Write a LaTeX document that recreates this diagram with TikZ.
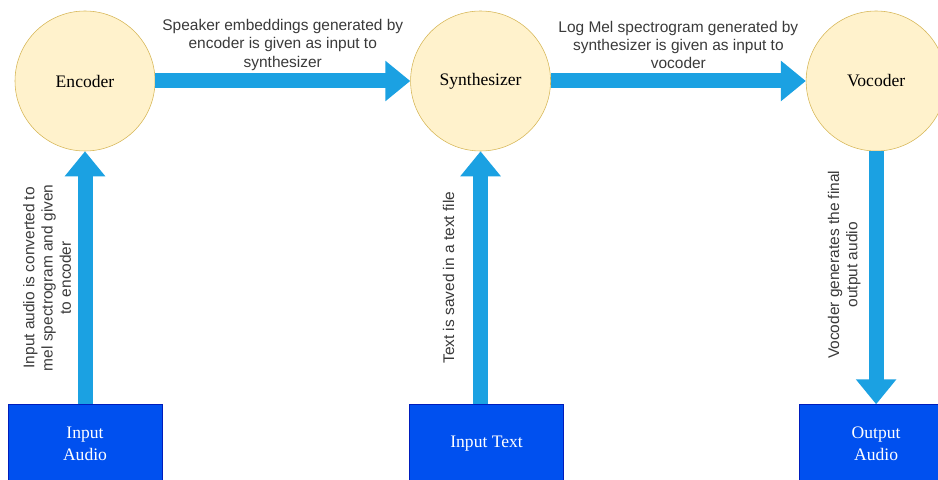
\documentclass[tikz,border=0pt]{standalone}
\usepackage{fontspec}
\setmainfont{Liberation Serif}
\newfontfamily\notefont{Liberation Sans}
\usepackage{tikz}
\usetikzlibrary{arrows.meta, positioning}

\definecolor{stageFill}{HTML}{FFF2CC}
\definecolor{stageLine}{HTML}{D6B656}
\definecolor{ioFill}{HTML}{0050EF}
\definecolor{ioLine}{HTML}{001DBC}
\definecolor{flowBlue}{HTML}{1BA1E2}
\definecolor{noteGray}{HTML}{3A3A3A}

\begin{document}
\begin{tikzpicture}[
        node distance=6.375cm and 6.375cm,
        stage/.style={circle, draw=stageLine, fill=stageFill, minimum size=3.5cm, inner sep=0pt, font=\fontsize{12.5}{15}\selectfont},
        io/.style={rectangle, draw=ioLine, fill=ioFill, text=white, minimum width=3.85cm, minimum height=1.95cm, align=center, font=\fontsize{12.5}{15.6}\selectfont},
        flow/.style={draw=flowBlue, line width=0.375cm, -{Triangle[width=0.975cm, length=0.625cm]}},
        note/.style={text=noteGray, align=center, font=\notefont\fontsize{11}{13}\selectfont}
    ]
        \useasboundingbox (0,0) rectangle (23.45,11.975);
        \clip (0,0) rectangle (23.45,11.975);

        \node[stage] (enc) at (2.125,9.95) {Encoder};
        \node[stage, right=of enc] (syn) {Synthesizer};
        \node[stage, right=of syn] (voc) {Vocoder};
        \node[io, below=6.325cm of enc] (inaudio) {Input\\Audio};
        \node[io, below=6.325cm of syn, xshift=0.15cm] (intext) {Input Text};
        \node[io, below=6.325cm of voc] (outaudio) {Output\\Audio};

        % stage to stage
        \draw[flow] (enc) -- node[note, yshift=0.9cm] {Speaker embeddings generated by\\encoder is given as input to\\synthesizer} (syn);
        \draw[flow] (syn) -- node[note, yshift=0.9cm] {Log Mel spectrogram generated by\\synthesizer is given as input to\\vocoder} (voc);

        % inputs and output
        \draw[flow] (inaudio) -- node[note, xshift=-0.95cm, rotate=90] {Input audio is converted to\\mel spectrogram and given\\to encoder} (enc);
        \draw[flow] (syn |- intext.north) -- node[note, xshift=-0.8cm, rotate=90] {Text is saved in a text file} (syn);
        \draw[flow] (voc) -- node[note, xshift=-0.8cm, yshift=0.325cm, rotate=90] {Vocoder generates the final\\output audio} (outaudio);
    \end{tikzpicture}
\end{document}
